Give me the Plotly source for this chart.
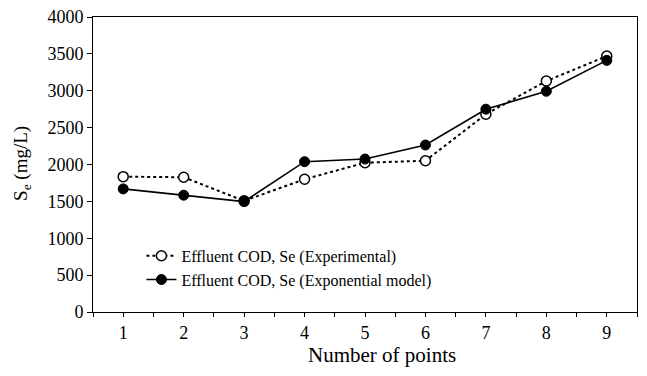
import plotly.graph_objects as go

points = [1, 2, 3, 4, 5, 6, 7, 8, 9]
se_experimental = [1835, 1827, 1507, 1800, 2024, 2051, 2682, 3132, 3470]
se_model = [1669, 1584, 1497, 2038, 2074, 2264, 2750, 2993, 3412]
y_ticks = [0, 500, 1000, 1500, 2000, 2500, 3000, 3500, 4000]

FONT = "Liberation Serif, Times New Roman, serif"

fig = go.Figure()
fig.add_trace(go.Scatter(
    x=points, y=se_experimental, mode="lines+markers",
    name="Effluent COD, Se (Experimental)",
    line=dict(color="black", width=2, dash="dot"),
    marker=dict(symbol="circle", size=10, color="white",
                line=dict(color="black", width=1.5)),
))
fig.add_trace(go.Scatter(
    x=points, y=se_model, mode="lines+markers",
    name="Effluent COD, Se (Exponential model)",
    line=dict(color="black", width=1.6),
    marker=dict(symbol="circle", size=10, color="black",
                line=dict(color="black", width=1)),
))

xtickvals = [v / 2 for v in range(1, 20)]
xticktext = [str(int(v)) if v == int(v) else "" for v in xtickvals]

# the page body keeps an 8px margin on every side, so the figure is 16px smaller
fig.update_layout(
    width=631, height=360,
    margin=dict(l=85, r=2, t=9, b=56),
    plot_bgcolor="white", paper_bgcolor="white",
    font=dict(family=FONT, color="black", size=18),
    showlegend=True,
    legend=dict(x=0.089, y=0.248, xanchor="left", yanchor="top",
                bgcolor="rgba(0,0,0,0)", font=dict(size=16, family=FONT),
                itemwidth=30, tracegroupgap=0),
    xaxis=dict(range=[0.5, 9.5], tickvals=xtickvals, ticktext=xticktext,
               ticks="outside", ticklen=4, tickcolor="black",
               showline=True, linecolor="black", linewidth=1, mirror=True,
               showgrid=False, zeroline=False, automargin=False,
               ticklabeloverflow="allow",
               tickfont=dict(size=18, family=FONT)),
    yaxis=dict(range=[0, 4000], tickvals=y_ticks,
               ticks="outside", ticklen=5, tickcolor="black",
               showline=True, linecolor="black", linewidth=1, mirror=True,
               showgrid=False, zeroline=False, automargin=False,
               ticklabeloverflow="allow",
               tickfont=dict(size=18, family=FONT)),
    annotations=[
        dict(text="Number of points", xref="paper", yref="paper",
             x=0.531, y=-0.146, xanchor="center", yanchor="middle",
             showarrow=False, font=dict(size=21, family=FONT)),
        dict(text="S<sub>e</sub> (mg/L)", xref="paper", yref="paper",
             x=-0.1305, y=0.502, xanchor="center", yanchor="middle",
             textangle=-90, showarrow=False, font=dict(size=19, family=FONT)),
    ],
)

fig.write_html("out.html")
